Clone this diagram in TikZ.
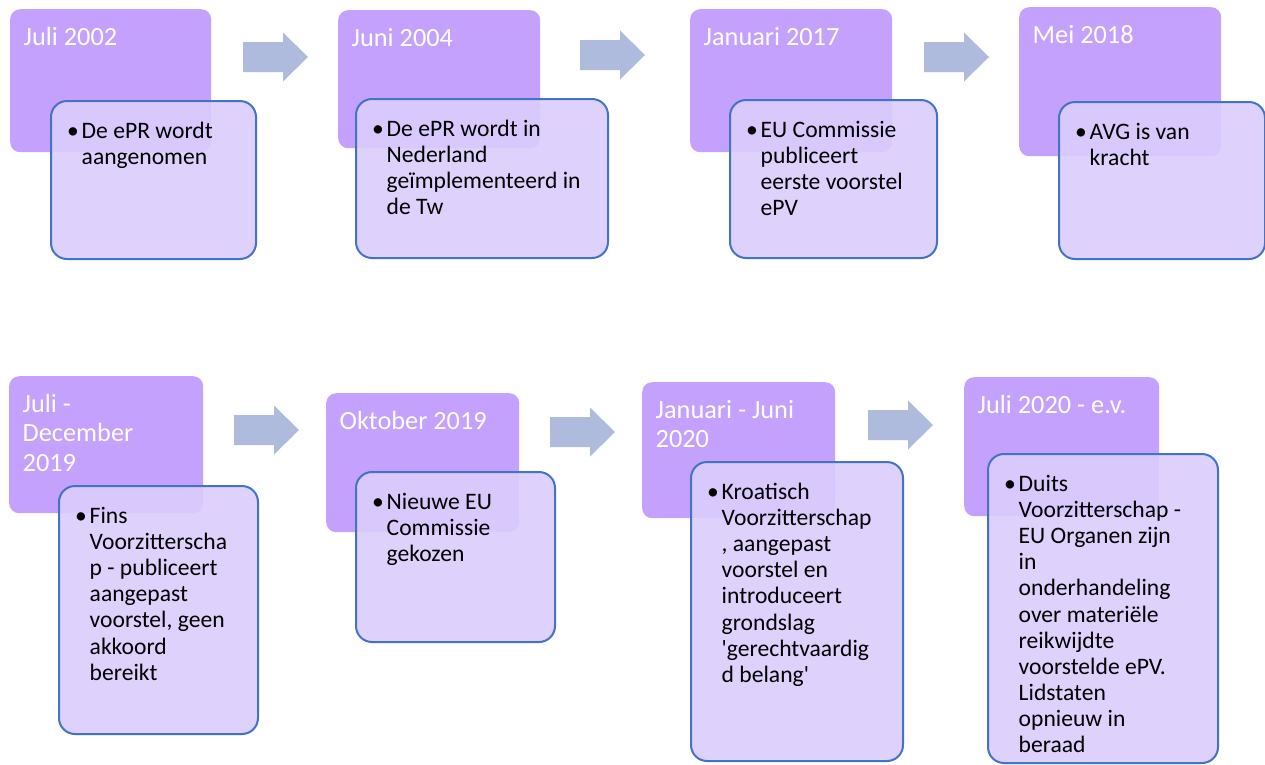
\documentclass[tikz,border=0pt]{standalone}
\usepackage{fontspec}
\newfontfamily\carlito{Carlito}
\usetikzlibrary{calc}
\definecolor{backc}{HTML}{C4A1FC}
\definecolor{frontc}{HTML}{DBCDFC}
\definecolor{edgec}{HTML}{4472C4}
\definecolor{arrowc}{HTML}{AEBBDC}
\tikzset{
  backbox/.style={draw=none, fill=backc, rounded corners=10pt, inner sep=0pt, anchor=north west},
  frontbox/.style={draw=edgec, line width=2pt, fill=frontc, fill opacity=0.9, draw opacity=1, rounded corners=16pt, inner sep=0pt, anchor=north west},
  titletext/.style={text=white, inner sep=0pt, anchor=base west, font=\carlito\fontsize{26.3}{29.5}\selectfont},
  bodytext/.style={text=black, inner sep=0pt, anchor=base west, font=\carlito\fontsize{23.6}{26.1}\selectfont},
  bulletmark/.style={text=black, inner sep=0pt, anchor=base, font=\carlito\fontsize{23.6}{26.1}\selectfont},
  blockarrow/.style={fill=arrowc, draw=none}
}
\newcommand{\lines}[1]{\parbox[t]{300pt}{\raggedright #1}}
% #1 name, #2 back x, #3 back y, #4 back w, #5 back h, #6 front x, #7 front y, #8 front w, #9 front h
\newcommand{\tlbox}[9]{%
  \node[backbox, minimum width=#4pt, minimum height=#5pt] (b#1) at (#2,#3) {};
  \node[frontbox, minimum width=#8pt, minimum height=#9pt] (f#1) at (#6,#7) {};
}
\newcommand{\tlarrow}[3]{%
  \coordinate (a#1) at (#2,#3);
  \fill[blockarrow] ($(a#1)+(0,-15)$) -- ++(40,0) -- ++(0,-9.5) -- ($(a#1)+(65,0)$)
    -- ($(a#1)+(40,24.5)$) -- ++(0,-9.5) -- ($(a#1)+(0,15)$) -- cycle;
}
\newcommand{\tltexts}[3]{%
  \node[titletext] (t#1) at ($(b#1.north west)+(13.5,36)$) {\lines{#2}};
  \node[bodytext] (x#1) at ($(f#1.north west)+(31.5,38.5)$) {\lines{#3}};
  \node[bulletmark] (u#1) at ($(x#1.base west)+(-8.5,0)$) {•};
}
\begin{document}
\begin{tikzpicture}[x=1pt,y=-1pt]
\useasboundingbox[fill=white] (0,0) rectangle (1265,764);

% row 1
\tlbox{1}{10}{9}{201}{143}{50}{100}{205}{158}
\tltexts{1}{Juli 2002}{De ePR wordt\\aangenomen}
\tlarrow{1}{243}{57}

\tlbox{2}{338}{10}{202}{138}{355}{98}{252}{159}
\tltexts{2}{Juni 2004}{De ePR wordt in\\Nederland\\geïmplementeerd in\\de Tw}
\tlarrow{2}{580}{55}

\tlbox{3}{690}{9}{202}{143}{729}{99}{207}{158}
\tltexts{3}{Januari 2017}{EU Commissie\\publiceert\\eerste voorstel\\ePV}
\tlarrow{3}{924}{57}

\tlbox{4}{1019}{7}{202}{149}{1058}{101}{206}{157}
\tltexts{4}{Mei 2018}{AVG is van\\kracht}

% row 2
\tlbox{5}{9}{376}{194}{137}{58}{485}{199}{248}
\tltexts{5}{Juli -\\December\\2019}{Fins\\Voorzitterscha\\p - publiceert\\aangepast\\voorstel, geen\\akkoord\\bereikt}
\tlarrow{5}{234}{430}

\tlbox{6}{326}{393}{193}{139}{355}{471}{199}{170}
\tltexts{6}{Oktober 2019}{Nieuwe EU\\Commissie\\gekozen}
\tlarrow{6}{550}{432}

\tlbox{7}{642}{382}{193}{136}{690}{461}{212}{299}
\tltexts{7}{Januari - Juni\\2020}{Kroatisch\\Voorzitterschap\\, aangepast\\voorstel en\\introduceert\\grondslag\\'gerechtvaardig\\d belang'}
\tlarrow{7}{868}{425}

\tlbox{8}{964}{377}{195}{139}{987}{453}{230}{309}
\tltexts{8}{Juli 2020 - e.v.}{Duits\\Voorzitterschap -\\EU Organen zijn\\in\\onderhandeling\\over materiële\\reikwijdte\\voorstelde ePV.\\Lidstaten\\opnieuw in\\beraad}
\end{tikzpicture}
\end{document}
